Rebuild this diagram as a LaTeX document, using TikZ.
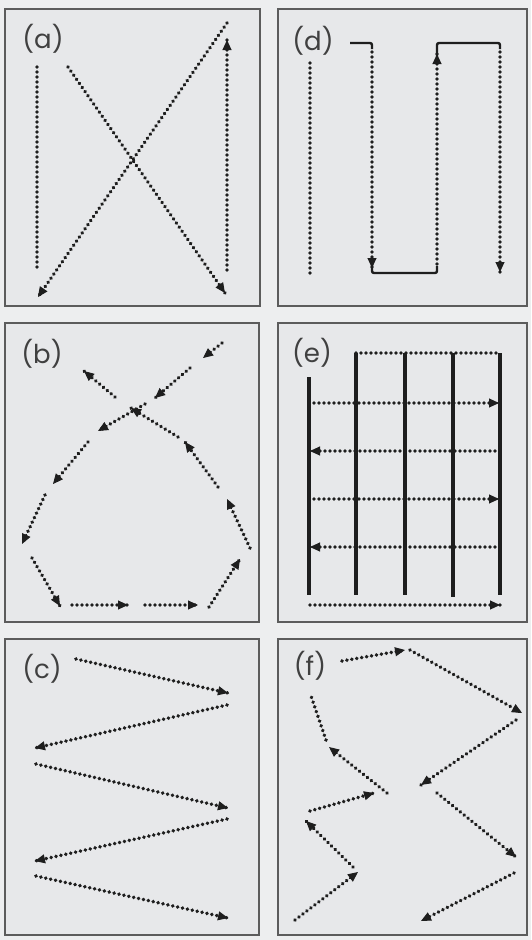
\documentclass[tikz,border=0pt]{standalone}
\usepackage{fontspec}
\setsansfont{Poppins}
\usetikzlibrary{arrows.meta,decorations.markings}
\definecolor{bgout}{HTML}{EDEEEF}
\definecolor{bgin}{HTML}{E7E8EA}
\definecolor{frame}{HTML}{5C5C5C}
\definecolor{ink}{HTML}{1E1E1E}
\tikzset{
  panel/.style={draw=frame, line width=1.6pt, fill=bgin},
  lbl/.style={font=\sffamily\fontsize{26}{26}\selectfont, text=ink!85, inner sep=0pt},
  dots/.style={postaction={decorate, decoration={markings,
      mark=between positions 0 and 1 step 5pt with {\fill[ink] (0pt,0pt) circle [radius=1.95pt];}}}},
  dotarr/.style={dots, draw=ink, line width=1pt, dash pattern=on 0pt off 3000pt,
      -{Triangle[length=10pt,width=9pt]}},
  solidln/.style={draw=ink, line width=2.4pt, rounded corners=2pt},
  gridln/.style={draw=ink, line width=3.2pt}
}
\begin{document}
\begin{tikzpicture}[x=1pt,y=-1pt]
\useasboundingbox (0,0) rectangle (531,940);
\fill[bgout] (0,0) rectangle (531,940);
% panels
\draw[panel] (5,9) rectangle (260,306);
\draw[panel] (278,9) rectangle (527,306);
\draw[panel] (5,323) rectangle (259,622);
\draw[panel] (278,323) rectangle (527,622);
\draw[panel] (5,639) rectangle (259,935);
\draw[panel] (278,639) rectangle (527,935);
% labels
\node[lbl] (la) at (43,39) {(a)};
\node[lbl] (ld) at (313,41) {(d)};
\node[lbl] (lb) at (42,354) {(b)};
\node[lbl] (le) at (312,353) {(e)};
\node[lbl] (lc) at (42,669) {(c)};
\node[lbl] (lf) at (310,666) {(f)};
% ---------- (a)
\path[dots] (37,67) -- (37,270);
\draw[dotarr] (68,67) -- (225,293);
\draw[dotarr] (227,270) -- (227,40);
\draw[dotarr] (227,23) -- (38,297);
% ---------- (d)
\path[dots] (310,63) -- (310,275);
\draw[solidln] (350,43) -- (372,43) -- (372,49);
\draw[dotarr] (372,52) -- (372,268);
\draw[solidln] (372,264) -- (372,273) -- (437,273) -- (437,266);
\draw[dotarr] (437,264) -- (437,54);
\draw[solidln] (437,56) -- (437,43) -- (500,43) -- (500,49);
\draw[dotarr] (500,52) -- (500,272);
% ---------- (b)
\draw[dotarr] (222,343) -- (203,358);
\draw[dotarr] (190,368) -- (155,398);
\draw[dotarr] (178,437) -- (131,408);
\draw[dotarr] (145,404) -- (98,431);
\draw[dotarr] (115,397) -- (84,371);
\draw[dotarr] (88,442) -- (53,484);
\draw[dotarr] (45,495) -- (22,544);
\draw[dotarr] (32,558) -- (60,606);
\draw[dotarr] (72,605) -- (128,605);
\draw[dotarr] (145,605) -- (198,605);
\draw[dotarr] (209,607) -- (240,559);
\draw[dotarr] (250,548) -- (227,499);
\draw[dotarr] (218,487) -- (185,442);
% ---------- (e)
\draw[gridln] (309,377) -- (309,595);
\draw[gridln] (356,353) -- (356,595);
\draw[gridln] (405,353) -- (405,595);
\draw[gridln] (453,353) -- (453,597);
\draw[gridln] (500,353) -- (500,595);
\path[dots] (356,353) -- (500,353);
\draw[dotarr] (309,403) -- (499,403);
\draw[dotarr] (500,451) -- (310,451);
\draw[dotarr] (309,499) -- (499,499);
\draw[dotarr] (500,547) -- (310,547);
\draw[dotarr] (310,605) -- (500,605);
% ---------- (c)
\draw[dotarr] (76,659) -- (228,693);
\draw[dotarr] (227,705) -- (35,748);
\draw[dotarr] (36,764) -- (228,808);
\draw[dotarr] (227,819) -- (35,861);
\draw[dotarr] (36,876) -- (228,918);
% ---------- (f)
\draw[dotarr] (342,661) -- (405,650);
\draw[dotarr] (410,650) -- (522,713);
\draw[dotarr] (516,720) -- (421,785);
\draw[dotarr] (437,793) -- (516,857);
\draw[dotarr] (514,873) -- (421,921);
\draw[dotarr] (295,920) -- (358,872);
\draw[dotarr] (353,867) -- (306,821);
\draw[dotarr] (310,811) -- (374,793);
\draw[dotarr] (387,793) -- (329,747);
\path[dots] (326,740) -- (310,693);
\end{tikzpicture}
\end{document}
